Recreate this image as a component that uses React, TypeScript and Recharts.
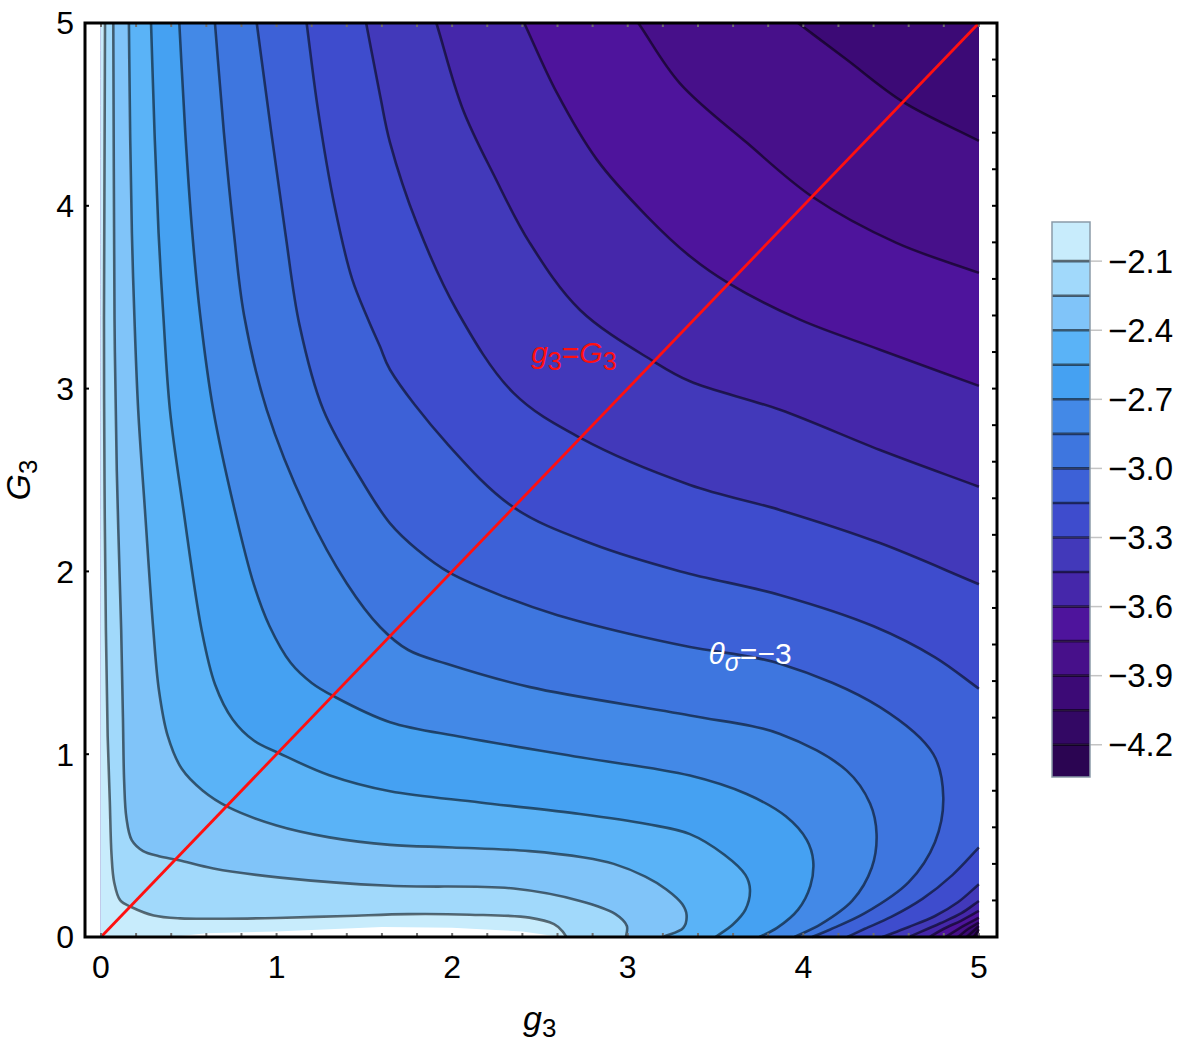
import React from 'react';
import { ScatterChart, Scatter, XAxis, YAxis } from 'recharts';

type Pt = [number, number];
type Px = { x: number; y: number };
interface Piece { pts: Pt[]; smooth: boolean }

const FONT = '"Liberation Sans", Arial, sans-serif';

// band colours, from the lightest band (above -2.1) down to the darkest (below -4.2)
const bandColors = [
  '#c8ecfc', '#a1d9fb', '#80c4f9', '#5ab3f7', '#45a1f2', '#4389e7', '#3e76df', '#3d61d7',
  '#3e4ccd', '#4239ba', '#4527aa', '#4e149c', '#47108a', '#3c0a76', '#330864', '#2b0552',
];
const levels = [-2.1, -2.25, -2.4, -2.55, -2.7, -2.85, -3.0, -3.15, -3.3, -3.45, -3.6, -3.75, -3.9, -4.05, -4.2];
const barTicks = [-2.1, -2.4, -2.7, -3.0, -3.3, -3.6, -3.9, -4.2];
const barTop = -1.93;
const barBottom = -4.34;

const xTicks = [0, 1, 2, 3, 4, 5];
const yTicks = [0, 1, 2, 3, 4, 5];
const minorTicks = [0, 0.2, 0.4, 0.6, 0.8, 1, 1.2, 1.4, 1.6, 1.8, 2, 2.2, 2.4, 2.6, 2.8, 3, 3.2, 3.4, 3.6, 3.8, 4, 4.2, 4.4, 4.6, 4.8, 5];

// contour lines (g3, G3)
const c210: Pt[] = [[0.023, 5], [0.02, 4.2], [0.017, 3.38], [0.02, 2.5], [0.028, 1.68], [0.038, 1.1], [0.05, 0.75], [0.06, 0.45], [0.075, 0.3], [0.11, 0.2], [0.175, 0.163], [0.3, 0.118], [0.45, 0.102], [0.7, 0.1], [1.0, 0.104], [1.4, 0.115], [1.75, 0.125], [2.1, 0.122], [2.44, 0.106], [2.58, 0.07], [2.63, 0.03], [2.65, 0]];
const c225: Pt[] = [[0.07, 5], [0.073, 4.2], [0.077, 3.38], [0.09, 2.55], [0.115, 1.68], [0.125, 1.2], [0.132, 0.85], [0.145, 0.65], [0.175, 0.53], [0.24, 0.47], [0.33, 0.442], [0.444, 0.42], [0.64, 0.375], [1.02, 0.325], [1.646, 0.28], [2.35, 0.265], [2.728, 0.197], [2.93, 0.125], [2.995, 0.06], [2.99, 0]];
const c240: Pt[] = [[0.159, 5], [0.166, 4.4], [0.176, 3.85], [0.19, 3.4], [0.212, 2.88], [0.25, 2.34], [0.298, 1.68], [0.33, 1.35], [0.38, 1.1], [0.46, 0.92], [0.58, 0.8], [0.725, 0.71], [1.0, 0.61], [1.3, 0.545], [1.646, 0.504], [2.0, 0.49], [2.44, 0.47], [2.75, 0.435], [2.92, 0.4], [3.1, 0.33], [3.22, 0.26], [3.31, 0.18], [3.335, 0.12], [3.316, 0.05], [3.2, 0]];
const c255: Pt[] = [[0.285, 5], [0.305, 4.4], [0.328, 3.85], [0.355, 3.4], [0.393, 2.88], [0.469, 2.34], [0.573, 1.68], [0.65, 1.38], [0.75, 1.19], [0.87, 1.075], [1.015, 1.005], [1.3, 0.885], [1.646, 0.797], [2.158, 0.736], [2.728, 0.673], [3.108, 0.618], [3.354, 0.563], [3.55, 0.45], [3.67, 0.34], [3.696, 0.26], [3.67, 0.15], [3.6, 0.07], [3.5, 0]];
const c270: Pt[] = [[0.446, 5], [0.48, 4.4], [0.52, 3.85], [0.565, 3.4], [0.64, 2.88], [0.76, 2.34], [0.87, 1.93], [0.96, 1.7], [1.08, 1.5], [1.2, 1.39], [1.327, 1.316], [1.646, 1.175], [2.063, 1.093], [2.728, 0.983], [3.354, 0.883], [3.677, 0.782], [3.9, 0.66], [4.02, 0.53], [4.056, 0.417], [4.04, 0.28], [3.97, 0.15], [3.85, 0.05], [3.75, 0]];
const c285: Pt[] = [[0.649, 5], [0.7, 4.4], [0.757, 3.85], [0.815, 3.4], [0.944, 2.884], [1.171, 2.336], [1.4, 1.934], [1.589, 1.696], [1.75, 1.57], [1.968, 1.495], [2.443, 1.367], [3.354, 1.212], [3.867, 1.111], [4.247, 0.91], [4.38, 0.73], [4.417, 0.563], [4.39, 0.38], [4.28, 0.2], [4.1, 0.07], [3.95, 0]];
const c300: Pt[] = [[0.887, 5], [0.97, 4.4], [1.05, 3.85], [1.13, 3.35], [1.266, 2.884], [1.494, 2.482], [1.646, 2.263], [1.8, 2.12], [1.99, 1.99], [2.3, 1.86], [2.6, 1.76], [3.0, 1.66], [3.354, 1.586], [3.867, 1.495], [4.436, 1.257], [4.74, 1.0], [4.797, 0.764], [4.75, 0.52], [4.6, 0.3], [4.35, 0.13], [4.15, 0.04], [4.05, 0]];
const c315a: Pt[] = [[1.171, 5], [1.235, 4.53], [1.33, 4.0], [1.43, 3.6], [1.522, 3.377], [1.589, 3.23], [1.646, 3.103], [1.97, 2.7], [2.35, 2.35], [2.8, 2.15], [3.3, 2.0], [3.87, 1.87], [4.4, 1.7], [4.75, 1.53], [5, 1.358]];
const c315b: Pt[] = [[5, 0.49], [4.85, 0.34], [4.68, 0.21], [4.5, 0.11], [4.35, 0.045], [4.25, 0]];
const c330a: Pt[] = [[1.51, 5], [1.59, 4.6], [1.646, 4.346], [1.8, 3.9], [2.025, 3.43], [2.35, 2.975], [2.73, 2.73], [3.354, 2.473], [3.87, 2.335], [4.436, 2.155], [5, 1.93]];
const c330b: Pt[] = [[5, 0.289], [4.88, 0.19], [4.75, 0.115], [4.6, 0.055], [4.45, 0]];
const c345a: Pt[] = [[1.91, 5], [2.06, 4.53], [2.24, 4.163], [2.44, 3.8], [2.728, 3.43], [3.145, 3.15], [3.354, 3.04], [3.867, 2.884], [4.436, 2.664], [5, 2.463]];
const c345b: Pt[] = [[5, 0.197], [4.9, 0.13], [4.78, 0.075], [4.6, 0]];
const c360a: Pt[] = [[2.41, 5], [2.595, 4.62], [2.823, 4.254], [3.108, 3.944], [3.354, 3.724], [3.58, 3.573], [3.98, 3.377], [4.436, 3.213], [5, 3.015]];
const c360b: Pt[] = [[5, 0.143], [4.9, 0.09], [4.8, 0.045], [4.72, 0]];
const c375a: Pt[] = [[3.06, 5], [3.297, 4.67], [3.677, 4.346], [4.053, 4.048], [4.53, 3.797], [5, 3.633]];
const c375b: Pt[] = [[5, 0.106], [4.92, 0.065], [4.81, 0]];
const c390a: Pt[] = [[3.97, 5], [4.246, 4.8], [4.565, 4.57], [5, 4.355]];
const c390b: Pt[] = [[5, 0.079], [4.94, 0.045], [4.88, 0]];
const c405b: Pt[] = [[5, 0.06], [4.93, 0]];
const c420b: Pt[] = [[5, 0.042], [4.97, 0]];

// pieces of each level, same order as `levels`
const lineSets: Pt[][][] = [
  [c210], [c225], [c240], [c255], [c270], [c285], [c300],
  [c315a, c315b], [c330a, c330b], [c345a, c345b], [c360a, c360b], [c375a, c375b], [c390a, c390b],
  [c405b], [c420b],
];

// unplotted sliver along the bottom edge
const whiteGap: Pt[] = [[0.4, 0], [0.6, 0.02], [1.0, 0.03], [1.6, 0.055], [2.0, 0.05], [2.4, 0.03], [2.62, 0]];
const diagonal: Pt[] = [[0, 0], [5, 5]];
const xMin = -0.091;
const xMax = 5.103;

const square: Pt[] = [[0, 0], [0, 5], [5, 5], [5, 0]];

function regionPieces(comps: Pt[][]): Piece[] {
  if (comps.length === 2) {
    return [{ pts: comps[0], smooth: true }, { pts: comps[1], smooth: true }, { pts: [[0, 0], [0, 5]], smooth: false }];
  }
  if (comps[0][0][1] === 5) {
    return [{ pts: comps[0], smooth: true }, { pts: [[0, 0], [0, 5]], smooth: false }];
  }
  return [{ pts: [[0, 5], [5, 5]], smooth: false }, { pts: comps[0], smooth: true }, { pts: [[0, 0]], smooth: false }];
}

// centripetal catmull-rom through pixel points, as cubic bezier commands
function curveThrough(p: Px[]): string {
  let d = '';
  const dist = (a: Px, b: Px) => Math.sqrt(Math.hypot(a.x - b.x, a.y - b.y));
  for (let i = 0; i < p.length - 1; i++) {
    const p0 = p[i - 1] ?? p[i];
    const p1 = p[i];
    const p2 = p[i + 1];
    const p3 = p[i + 2] ?? p2;
    const l01 = dist(p0, p1);
    const l12 = dist(p1, p2);
    const l23 = dist(p2, p3);
    let c1 = { x: p1.x, y: p1.y };
    let c2 = { x: p2.x, y: p2.y };
    if (l01 > 1e-6) {
      const a = 2 * l01 * l01 + 3 * l01 * l12 + l12 * l12;
      const n = 3 * l01 * (l01 + l12);
      c1 = {
        x: (p1.x * a - p0.x * l12 * l12 + p2.x * l01 * l01) / n,
        y: (p1.y * a - p0.y * l12 * l12 + p2.y * l01 * l01) / n,
      };
    } else {
      c1 = { x: p1.x + (p2.x - p1.x) / 3, y: p1.y + (p2.y - p1.y) / 3 };
    }
    if (l23 > 1e-6) {
      const b = 2 * l23 * l23 + 3 * l23 * l12 + l12 * l12;
      const m = 3 * l23 * (l23 + l12);
      c2 = {
        x: (p2.x * b + p1.x * l23 * l23 - p3.x * l12 * l12) / m,
        y: (p2.y * b + p1.y * l23 * l23 - p3.y * l12 * l12) / m,
      };
    } else {
      c2 = { x: p2.x - (p2.x - p1.x) / 3, y: p2.y - (p2.y - p1.y) / 3 };
    }
    d += `C${c1.x},${c1.y} ${c2.x},${c2.y} ${p2.x},${p2.y}`;
  }
  return d;
}

function pathOf(px: Px[], pieces: Piece[], close: boolean): string {
  let d = '';
  let i = 0;
  pieces.forEach((pc) => {
    const seg = px.slice(i, i + pc.pts.length);
    i += pc.pts.length;
    seg.forEach((q, j) => {
      if (j === 0 || !pc.smooth) d += `${d ? 'L' : 'M'}${q.x},${q.y}`;
    });
    if (pc.smooth && seg.length > 1) d += curveThrough(seg);
  });
  return close ? d + 'Z' : d;
}

const noDot = () => <g />;

function shapeSeries(key: string, pieces: Piece[], close: boolean, style: React.SVGProps<SVGPathElement>) {
  const data = pieces.flatMap((pc) => pc.pts.map(([x, y]) => ({ x, y })));
  return (
    <Scatter
      key={key}
      data={data}
      isAnimationActive={false}
      shape={noDot}
      line={(p: any) => <path d={pathOf(p.points, pieces, close)} {...style} />}
    />
  );
}

function tickSeries(key: string, data: { x: number; y: number }[], dx: number, dy: number, color: string) {
  return (
    <Scatter
      key={key}
      data={data}
      isAnimationActive={false}
      shape={(p: any) => <line x1={p.cx} y1={p.cy} x2={p.cx + dx} y2={p.cy + dy} stroke={color} strokeWidth={2} />}
    />
  );
}

function textSeries(key: string, x: number, y: number, content: React.ReactNode, color: string) {
  return (
    <Scatter
      key={key}
      data={[{ x, y }]}
      isAnimationActive={false}
      shape={(p: any) => (
        <text x={p.cx} y={p.cy} fill={color} fontFamily={FONT} fontSize={30}>
          {content}
        </text>
      )}
    />
  );
}

const lineStyle = { fill: 'none', stroke: 'rgba(0,0,0,0.55)', strokeWidth: 2.6 };

const xTitle = (props: any) => {
  const vb = props.viewBox;
  return (
    <text x={vb.x + vb.width / 2 - 18} y={vb.y + 93} fontFamily={FONT} fontSize={34} fontStyle="italic" fill="#000">
      g<tspan fontStyle="normal" fontSize={26} dy={7}>3</tspan>
    </text>
  );
};

const yTitle = (props: any) => {
  const vb = props.viewBox;
  const cx = vb.x - 10;
  const cy = vb.y + vb.height / 2;
  return (
    <text x={cx} y={cy} transform={`rotate(-90, ${cx}, ${cy})`} textAnchor="middle" fontFamily={FONT} fontSize={34} fontStyle="italic" fill="#000">
      G<tspan fontStyle="normal" fontSize={26} dy={7}>3</tspan>
    </text>
  );
};

const fmtBar = (v: number) => `${v < 0 ? '\u2212' : ''}${Math.abs(v).toFixed(1)}`;

export default function App() {
  const barEdges = [barTop, ...levels, barBottom];

  return (
    <div style={{ position: 'absolute', left: 0, top: 0, width: 1192, height: 1044, background: '#fff', fontFamily: FONT }}>
      <div style={{ position: 'absolute', left: 0, top: 0 }}>
        <ScatterChart width={1010} height={1044} margin={{ top: 23, right: 13, bottom: 0, left: 40 }}>
          <XAxis
            dataKey="x"
            type="number"
            domain={[xMin, xMax]}
            ticks={xTicks}
            axisLine={false}
            tickLine={false}
            tickSize={0}
            tickMargin={18}
            height={107}
            tick={{ fill: '#000', fontSize: 32, fontFamily: FONT }}
            label={{ content: xTitle }}
          />
          <YAxis
            dataKey="y"
            type="number"
            domain={[0, 5]}
            ticks={yTicks}
            axisLine={false}
            tickLine={false}
            tickSize={0}
            tickMargin={11}
            width={45}
            tick={{ fill: '#000', fontSize: 32, fontFamily: FONT }}
            label={{ content: yTitle }}
          />
          {shapeSeries('base', [{ pts: square, smooth: false }], true, { fill: bandColors[15], stroke: 'none' })}
          {levels
            .map((_, i) => i)
            .reverse()
            .map((i) => shapeSeries(`fill-${i}`, regionPieces(lineSets[i]), true, { fill: bandColors[i], stroke: 'none' }))}
          {shapeSeries('gap', [{ pts: whiteGap, smooth: false }], true, { fill: '#fff', stroke: 'none' })}
          {lineSets.flatMap((comps, i) =>
            comps.map((c, j) => shapeSeries(`line-${i}-${j}`, [{ pts: c, smooth: true }], false, lineStyle)),
          )}
          {shapeSeries('diag', [{ pts: diagonal, smooth: false }], false, { fill: 'none', stroke: '#ff1010', strokeWidth: 2.8 })}
          {tickSeries('tb', minorTicks.map((t) => ({ x: t, y: 0 })), 0, -4, '#6f6f6f')}
          {tickSeries('tt', minorTicks.map((t) => ({ x: t, y: 5 })), 0, 4, '#6f6f6f')}
          {tickSeries('tr', minorTicks.map((t) => ({ x: xMax, y: t })), -5, 0, '#000')}
          {tickSeries('tl', yTicks.map((t) => ({ x: xMin, y: t })), 4, 0, '#000')}
          {shapeSeries('frame', [{ pts: [[xMin, 0], [xMin, 5], [xMax, 5], [xMax, 0]], smooth: false }], true, { fill: 'none', stroke: '#000', strokeWidth: 3 })}
          {textSeries(
            'eq',
            2.45,
            3.14,
            <>
              <tspan fontStyle="italic">g</tspan>
              <tspan fontSize={25} dy={7}>3</tspan>
              <tspan dy={-7}>=</tspan>
              <tspan fontStyle="italic">G</tspan>
              <tspan fontSize={25} dy={7}>3</tspan>
            </>,
            '#ff1010',
          )}
          {textSeries(
            'theta',
            3.46,
            1.495,
            <>
              <tspan fontStyle="italic">θ</tspan>
              <tspan fontStyle="italic" fontSize={25} dy={7}>σ</tspan>
              <tspan dy={-7}>=−3</tspan>
            </>,
            '#ffffff',
          )}
        </ScatterChart>
      </div>

      <div style={{ position: 'absolute', left: 1040, top: 0 }}>
        <ScatterChart width={152} height={1044} margin={{ top: 222, right: 0, bottom: 267, left: 12 }}>
          <XAxis dataKey="x" type="number" domain={[0, 1]} hide />
          <YAxis
            dataKey="y"
            type="number"
            orientation="right"
            domain={[barBottom, barTop]}
            ticks={barTicks}
            axisLine={false}
            tickLine={{ stroke: '#c4c4c4', strokeWidth: 1.5 }}
            tickSize={12}
            tickMargin={6}
            width={102}
            tickFormatter={fmtBar}
            tick={{ fill: '#000', fontSize: 33, fontFamily: FONT }}
          />
          {bandColors.map((col, i) =>
            shapeSeries(
              `band-${i}`,
              [{ pts: [[0, barEdges[i]], [1, barEdges[i]], [1, barEdges[i + 1]], [0, barEdges[i + 1]]], smooth: false }],
              true,
              { fill: col, stroke: 'none' },
            ),
          )}
          {levels.map((l, i) => shapeSeries(`bl-${i}`, [{ pts: [[0, l], [1, l]], smooth: false }], false, lineStyle))}
          {shapeSeries('bframe', [{ pts: [[0, barBottom], [0, barTop], [1, barTop], [1, barBottom]], smooth: false }], true, { fill: 'none', stroke: '#8a9aa8', strokeWidth: 1.5 })}
        </ScatterChart>
      </div>
    </div>
  );
}
